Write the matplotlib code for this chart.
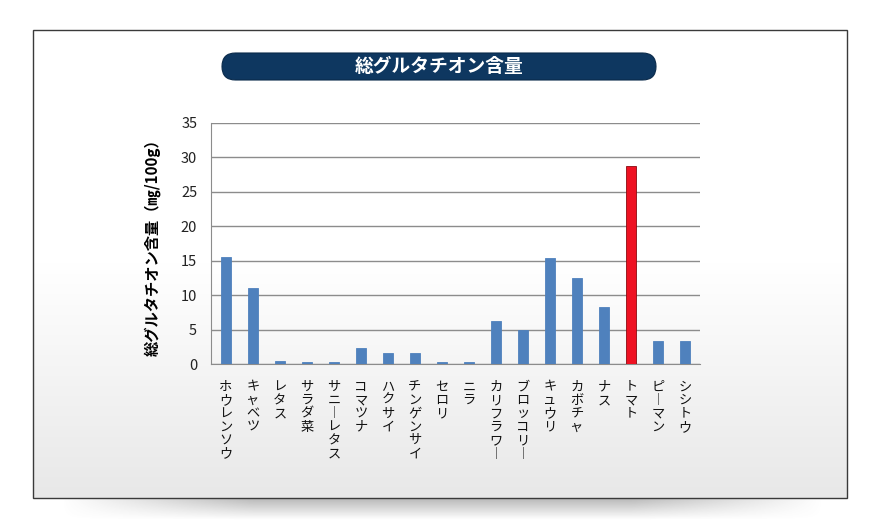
import numpy as np
import matplotlib.pyplot as plt
from matplotlib.patches import FancyBboxPatch, Rectangle

plt.rcParams['font.family'] = ['Noto Sans CJK JP', 'DejaVu Sans']

vegetables = ['ホウレンソウ', 'キャベツ', 'レタス', 'サラダ菜', 'サニーレタス',
              'コマツナ', 'ハクサイ', 'チンゲンサイ', 'セロリ', 'ニラ',
              'カリフラワー', 'ブロッコリー', 'キュウリ', 'カボチャ', 'ナス',
              'トマト', 'ピーマン', 'シシトウ']
glutathione = [15.5, 11.1, 0.5, 0.3, 0.3,
               2.3, 1.6, 1.6, 0.3, 0.3,
               6.2, 5.0, 15.4, 12.5, 8.3,
               28.7, 3.3, 3.3]
highlight = 'トマト'
title = '総グルタチオン含量'
ylabel = '総グルタチオン含量（㎎/100g）'

W, H = 886, 525
fig = plt.figure(figsize=(W / 100, H / 100), dpi=100)

# background in pixel coords
bg = fig.add_axes([0, 0, 1, 1], zorder=0)
bg.set_xlim(0, W)
bg.set_ylim(H, 0)
bg.axis('off')

# soft shadow under the frame
sh = np.linspace(1, 0, 30)[:, None] * np.ones((1, 200))
edge = np.minimum(1, np.minimum(np.linspace(0, 4, 200), np.linspace(4, 0, 200)))
sh = sh * edge[None, :]
shadow = np.zeros((30, 200, 4))
shadow[..., :3] = 0.45
shadow[..., 3] = sh * 0.55
bg.imshow(shadow, extent=[60, 825, 520, 496], aspect='auto', zorder=1,
          interpolation='bilinear')

# gradient panel
t = np.linspace(0, 1, 256)
g = np.where(t < 0.5, 1.0, 1.0 - (t - 0.5) / 0.5 * 0.09)
grad = np.transpose(np.dstack([g] * 3), (1, 0, 2)).repeat(2, axis=1)
bg.imshow(grad, extent=[33, 847, 498, 30], aspect='auto', zorder=2,
          interpolation='bilinear')
bg.add_patch(Rectangle((33, 30), 814, 468, fill=False, ec='#3a3a3a', lw=1.0, zorder=3))

# title pill
bg.add_patch(FancyBboxPatch((222, 53), 434, 27,
                            boxstyle='round,pad=0,rounding_size=13.5',
                            fc='#0e3760', ec='#0a2a4a', lw=0.8, zorder=4))
bg.text(439, 66.5, title, color='white', fontsize=13.5, fontweight='bold',
        ha='center', va='center', zorder=5)

# chart
ax = fig.add_axes([211 / W, 1 - 364 / H, (700 - 211) / W, (364 - 123) / H], zorder=2)
ax.patch.set_alpha(0)
x = np.arange(len(vegetables))
colors = ['#ee1122' if v == highlight else '#4f81bd' for v in vegetables]
edges = ['#8a0a10' if v == highlight else '#4f81bd' for v in vegetables]
ax.bar(x, glutathione, width=0.38, color=colors, edgecolor=edges, linewidth=0.6, zorder=3)

ax.set_ylim(0, 35)
ax.set_yticks(np.arange(0, 36, 5))
ax.set_xlim(-0.55, len(vegetables) - 0.45)
ax.yaxis.grid(True, color='#8c8c8c', lw=1.0, zorder=1)
ax.set_axisbelow(True)
for s in ['top', 'right']:
    ax.spines[s].set_visible(False)
ax.spines['left'].set_color('#8c8c8c')
ax.spines['bottom'].set_color('#8c8c8c')
ax.tick_params(axis='y', length=0, pad=10, labelsize=10.5, labelcolor='#222222')
ax.tick_params(axis='x', length=0, pad=12)

stacked = ['\n'.join(ch if ch != 'ー' else '︱' for ch in name) for name in vegetables]
ax.set_xticks(x)
ax.set_xticklabels(stacked, fontsize=9.5, linespacing=1.04, va='top', color='#111111')

ax.set_ylabel(ylabel, fontsize=11, fontweight='bold', labelpad=14)

fig.savefig('out.png', dpi=100)
